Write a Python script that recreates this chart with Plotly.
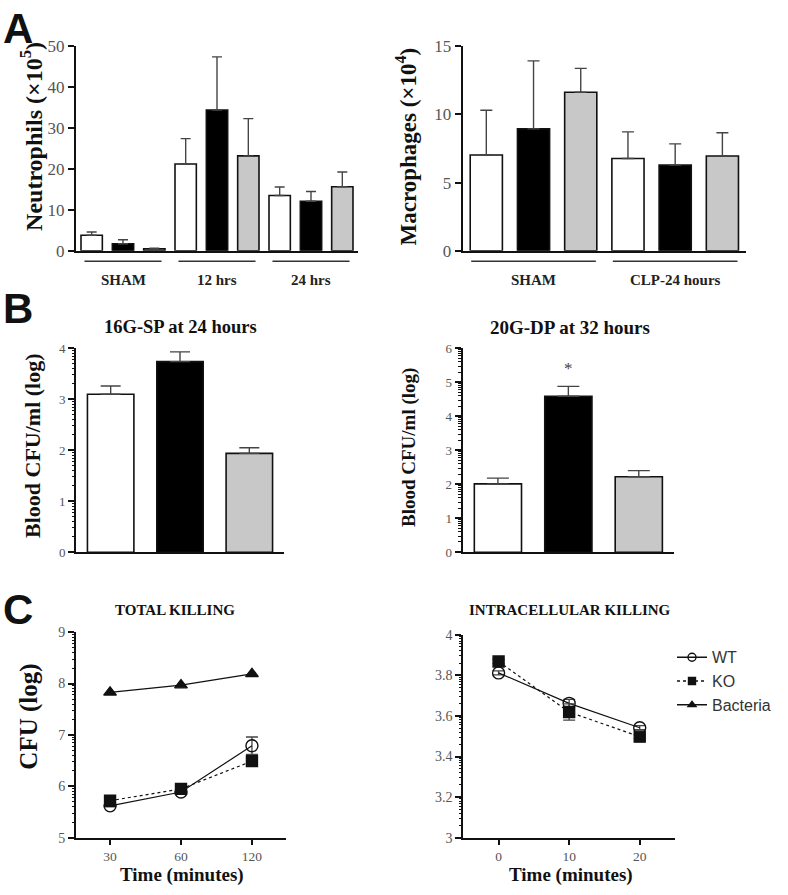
import math
import plotly.graph_objects as go

# ---------------- data ----------------
series_names = ["Series 1", "Series 2", "Series 3"]
series_colors = ["#ffffff", "#000000", "#c8c8c8"]

# Panel A - neutrophils
neut_groups = ["SHAM", "12 hrs", "24 hrs"]
neut_s1 = [3.8, 21.2, 13.5]
neut_s1_err = [0.8, 6.2, 2.1]
neut_s2 = [1.7, 34.4, 12.1]
neut_s2_err = [1.0, 13.0, 2.4]
neut_s3 = [0.45, 23.2, 15.65]
neut_s3_err = [0.15, 9.1, 3.6]

# Panel A - macrophages
mac_groups = ["SHAM", "CLP-24 hours"]
mac_s1 = [7.02, 6.76]
mac_s1_err = [3.28, 1.96]
mac_s2 = [8.94, 6.28]
mac_s2_err = [4.98, 1.56]
mac_s3 = [11.62, 6.95]
mac_s3_err = [1.75, 1.70]

# Panel B
blood16_vals = [3.10, 3.74, 1.94]
blood16_err = [0.16, 0.19, 0.11]
blood20_vals = [2.01, 4.59, 2.22]
blood20_err = [0.17, 0.29, 0.18]
blood20_star_y = 5.4

# Panel C - total killing
total_times = ["30", "60", "120"]
total_wt = [5.62, 5.89, 6.79]
total_wt_err = [0.02, 0.03, 0.17]
total_ko = [5.72, 5.95, 6.49]
total_ko_err = [0.03, 0.03, 0.05]
total_bact = [7.83, 7.97, 8.19]

# Panel C - intracellular killing
intra_times = [0, 10, 20]
intra_wt = [3.812, 3.662, 3.542]
intra_wt_err = [0.01, 0.02, 0.01]
intra_ko = [3.868, 3.619, 3.498]
intra_ko_err = [0.01, 0.04, 0.01]

legend_names = ["WT", "KO", "Bacteria"]

# ---------------- helpers ----------------
W, H = 788, 895
SERIF = "Liberation Serif"
SANS = "Liberation Sans"
INK = "#111111"
TICKC = "#555555"


def px(x):
    return x / W


def py(y):
    return 1 - y / H


def log_minor(lo, hi, step):
    vals = []
    n = lo
    while n < hi - 1e-9:
        for k in range(2, 10):
            vals.append(round(n + step * math.log10(k), 5))
        n += step
    return vals


fig = go.Figure()


def add_grouped_bars(groups, vals_list, errs_list, xa, ya, cap):
    width = 0.227
    for j, (vals, errs) in enumerate(zip(vals_list, errs_list)):
        fig.add_trace(go.Bar(
            x=groups, y=vals, name=series_names[j], showlegend=False,
            width=width, offset=-width / 2 + (j - 1) / 3,
            marker=dict(color=series_colors[j], line=dict(color=INK, width=1.6)),
            error_y=dict(type="data", symmetric=False, array=errs,
                         arrayminus=[0] * len(errs), color="#444444",
                         thickness=1.4, width=cap),
            xaxis=xa, yaxis=ya, hoverinfo="skip",
        ))


add_grouped_bars(neut_groups, [neut_s1, neut_s2, neut_s3],
                 [neut_s1_err, neut_s2_err, neut_s3_err], "x", "y", 5)
add_grouped_bars(mac_groups, [mac_s1, mac_s2, mac_s3],
                 [mac_s1_err, mac_s2_err, mac_s3_err], "x2", "y2", 6)

for vals, errs, xa, ya, cap in [(blood16_vals, blood16_err, "x3", "y3", 10),
                                (blood20_vals, blood20_err, "x4", "y4", 11)]:
    fig.add_trace(go.Bar(
        x=series_names, y=vals, width=0.67, showlegend=False,
        marker=dict(color=series_colors, line=dict(color=INK, width=1.6)),
        error_y=dict(type="data", symmetric=False, array=errs,
                     arrayminus=[0] * len(errs), color="#444444",
                     thickness=1.4, width=cap),
        xaxis=xa, yaxis=ya, hoverinfo="skip",
    ))

# Panel C lines
line_specs = [
    ("circle-open", "solid", 12),
    ("square", "dot", 11),
    ("triangle-up", "solid", 11),
]
total_data = [(total_wt, total_wt_err), (total_ko, total_ko_err), (total_bact, None)]
for name, (sym, dash, size), (vals, errs) in zip(legend_names, line_specs, total_data):
    fig.add_trace(go.Scatter(
        x=total_times, y=vals, name=name, mode="lines+markers",
        line=dict(color=INK, width=1.2, dash=dash),
        marker=dict(symbol=sym, size=size, color=INK, line=dict(color=INK, width=1.4)),
        error_y=(dict(type="data", array=errs, color="#444444", thickness=1.3, width=6)
                 if errs else None),
        xaxis="x5", yaxis="y5", showlegend=False,
    ))

intra_data = [(intra_wt, intra_wt_err), (intra_ko, intra_ko_err)]
for name, (sym, dash, size), (vals, errs) in zip(legend_names[:2], line_specs[:2], intra_data):
    fig.add_trace(go.Scatter(
        x=intra_times, y=vals, name=name, mode="lines+markers",
        line=dict(color=INK, width=1.2, dash=dash),
        marker=dict(symbol=sym, size=size, color=INK, line=dict(color=INK, width=1.4)),
        error_y=dict(type="data", array=errs, color="#444444", thickness=1.3, width=6),
        xaxis="x6", yaxis="y6", showlegend=False,
    ))

# legend-only entries (small symbols, as in the reference key)
for name, (sym, dash, size) in zip(legend_names, line_specs):
    fig.add_trace(go.Scatter(
        x=[None], y=[None], name=name, mode="lines+markers",
        line=dict(color=INK, width=1.5, dash=dash),
        marker=dict(symbol=sym, size=8 if sym == "circle-open" else 7, color=INK,
                    line=dict(color=INK, width=1.4)),
        xaxis="x6", yaxis="y6", showlegend=True,
    ))

# empty traces so the minor-tick overlay axes are drawn
for xa, ya in [("x3", "y7"), ("x4", "y8"), ("x5", "y9"), ("x6", "y10")]:
    fig.add_trace(go.Scatter(x=[None], y=[None], mode="markers", showlegend=False,
                             hoverinfo="skip", xaxis=xa, yaxis=ya))


# ---------------- axes ----------------
def xax(dom, rng, **kw):
    d = dict(domain=[px(dom[0]), px(dom[1])], range=rng, showline=True,
             linecolor=INK, linewidth=2, showgrid=False, zeroline=False,
             ticks="", showticklabels=False, fixedrange=True)
    d.update(kw)
    return d


def yax(dom, rng, dtick, fsize, **kw):
    d = dict(domain=[py(dom[1]), py(dom[0])], range=rng, dtick=dtick, tick0=rng[0],
             showline=True, linecolor=INK, linewidth=2, showgrid=False,
             zeroline=False, ticks="outside", ticklen=6, tickwidth=1.5,
             tickcolor=INK, tickfont=dict(family=SERIF, size=fsize, color=TICKC),
             fixedrange=True)
    d.update(kw)
    return d


def minor_ax(over, anchor, rng, vals):
    return dict(overlaying=over, anchor=anchor, side="left", range=rng,
                tickmode="array", tickvals=vals, ticks="outside", ticklen=3.5,
                tickwidth=1.2, tickcolor=INK, showticklabels=False, showline=False,
                showgrid=False, zeroline=False, fixedrange=True)


fig.update_layout(
    width=W, height=H, margin=dict(l=0, r=0, t=0, b=0),
    paper_bgcolor="white", plot_bgcolor="white", barmode="overlay",
    xaxis=xax((76, 358), [-0.5, 2.5], type="category", anchor="y"),
    yaxis=yax((38, 247), [0, 50], 10, 17, anchor="x"),
    xaxis2=xax((462.7, 746), [-0.5, 1.5], type="category", anchor="y2"),
    yaxis2=yax((38, 247), [0, 15], 5, 17, anchor="x2"),
    xaxis3=xax((76, 284), [-0.5, 2.5], type="category", anchor="y3"),
    yaxis3=yax((346.7, 555), [0, 4], 1, 13, anchor="x3"),
    xaxis4=xax((462.7, 674), [-0.5, 2.5], type="category", anchor="y4"),
    yaxis4=yax((346.7, 555), [0, 6], 1, 13, anchor="x4"),
    xaxis5=xax((76, 286), [-0.48, 2.48], type="category", anchor="y5",
               ticks="outside", ticklen=5, tickwidth=1.5, tickcolor=INK,
               showticklabels=True, tickfont=dict(family=SERIF, size=13.5, color=TICKC)),
    yaxis5=yax((636.7, 846.7), [5, 9], 1, 14, anchor="x5"),
    xaxis6=xax((463.3, 675), [-5, 25], anchor="y6", dtick=10, tick0=0,
               ticks="outside", ticklen=5, tickwidth=1.5, tickcolor=INK,
               showticklabels=True, tickfont=dict(family=SERIF, size=13.5, color=TICKC)),
    yaxis6=yax((639.3, 846.7), [3, 4], 0.2, 14, anchor="x6"),
    yaxis7=minor_ax("y3", "x3", [0, 4], log_minor(0, 4, 1)),
    yaxis8=minor_ax("y4", "x4", [0, 6], log_minor(0, 6, 1)),
    yaxis9=minor_ax("y5", "x5", [5, 9], log_minor(5, 9, 1)),
    yaxis10=minor_ax("y6", "x6", [3, 4], log_minor(3, 4, 0.2)),
    legend=dict(x=px(672), y=py(645), xanchor="left", yanchor="top",
                font=dict(family=SANS, size=16, color="#333333"),
                bgcolor="rgba(0,0,0,0)", itemwidth=30, tracegroupgap=0),
    showlegend=True,
)

# ---------------- group underlines & labels (panel A) ----------------
shapes = []
annotations = []
for i, g in enumerate(neut_groups):
    shapes.append(dict(type="line", xref="x", yref="paper", x0=i - 0.41, x1=i + 0.41,
                       y0=py(257.7), y1=py(257.7), line=dict(color="#333333", width=1.5)))
    annotations.append(dict(x=g, xref="x", y=py(276.7), yref="paper", text=f"<b>{g}</b>",
                            showarrow=False, font=dict(family=SERIF, size=15, color="#222222"),
                            yanchor="middle"))
for i, g in enumerate(mac_groups):
    shapes.append(dict(type="line", xref="x2", yref="paper", x0=i - 0.44, x1=i + 0.44,
                       y0=py(257.7), y1=py(257.7), line=dict(color="#333333", width=1.5)))
    annotations.append(dict(x=g, xref="x2", y=py(276.7), yref="paper", text=f"<b>{g}</b>",
                            showarrow=False, font=dict(family=SERIF, size=15, color="#222222"),
                            yanchor="middle"))

# asterisk
annotations.append(dict(x=series_names[1], xref="x4", y=blood20_star_y, yref="y4", text="*",
                        showarrow=False, font=dict(family=SERIF, size=17, color="#444444")))


def txt(x, y, text, size, family=SERIF, angle=0, color="#111111"):
    annotations.append(dict(x=px(x), y=py(y), xref="paper", yref="paper", text=text,
                            showarrow=False, textangle=angle, xanchor="center",
                            yanchor="middle", font=dict(family=family, size=size, color=color)))


# panel letters
txt(18, 20, "<b>A</b>", 42, SANS)
txt(18, 306, "<b>B</b>", 42, SANS)
txt(18, 614, "<b>C</b>", 42, SANS)

# y titles
txt(31.7, 130, "<b>Neutrophils (×10<sup>5</sup>)</b>", 24, angle=-90)
txt(407, 140.5, "<b>Macrophages (×10<sup>4</sup>)</b>", 23, angle=-90)
txt(32, 446.5, "<b>Blood CFU/ml (log)</b>", 22, angle=-90)
txt(409.5, 448, "<b>Blood CFU/ml (log)</b>", 19, angle=-90)
txt(29, 723, "<b>CFU (log)</b>", 25, angle=-90)

# subplot titles
txt(180, 325, "<b>16G-SP at 24 hours</b>", 18.5)
txt(570, 325, "<b>20G-DP at 32 hours</b>", 19)
txt(175, 614, "<b>TOTAL KILLING</b>", 15)
txt(569.5, 614, "<b>INTRACELLULAR KILLING</b>", 15)

# x titles
txt(182, 884.5, "<b>Time (minutes)</b>", 19)
txt(571, 884.5, "<b>Time (minutes)</b>", 19)

fig.update_layout(shapes=shapes, annotations=annotations)

fig.write_html("out.html", config={"displayModeBar": False},
               post_script="document.body.style.margin='0';")
